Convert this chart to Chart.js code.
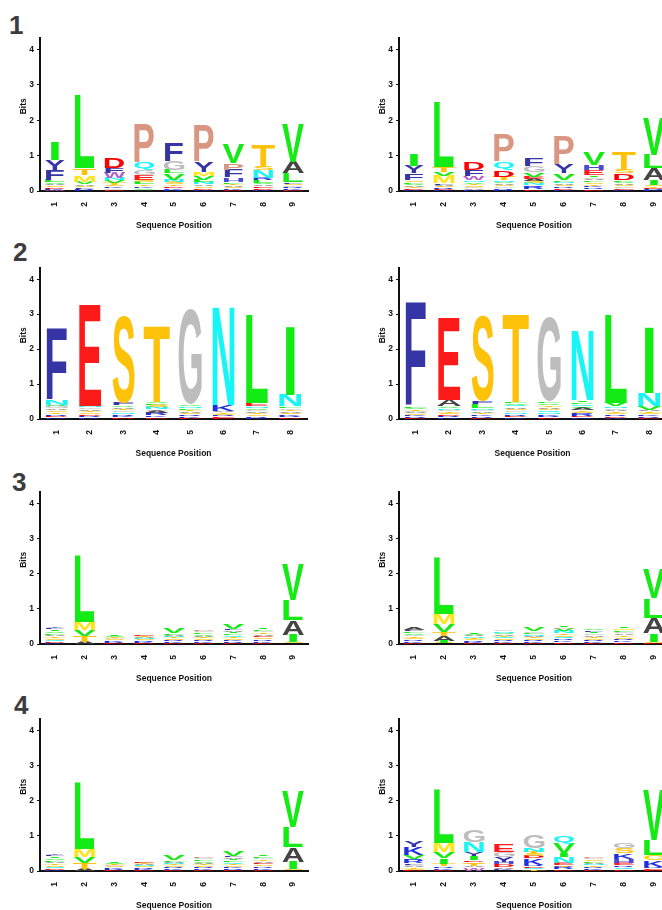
<!DOCTYPE html>
<html lang="en">
<head>
<meta charset="UTF-8">
<script src="https://cdn.jsdelivr.net/npm/chart.js@4.4.0/dist/chart.umd.min.js"></script>
<title>Sequence logos</title>
<style>
    body { margin: 0; width: 662px; height: 910px; overflow: hidden; background: #fff; position: relative; }
    canvas { position: absolute; }
    .num { position: absolute; font: bold 26px/26px "Liberation Sans", Arial, sans-serif; color: #3d3d3d; }
</style>
</head>
<body>
<div class="num" style="left:9px;top:12px">1</div>
<div class="num" style="left:13px;top:239px">2</div>
<div class="num" style="left:12px;top:469px">3</div>
<div class="num" style="left:14px;top:692px">4</div>

<canvas id="c1a"></canvas><canvas id="c1b"></canvas>
<canvas id="c2a"></canvas><canvas id="c2b"></canvas>
<canvas id="c3a"></canvas><canvas id="c3b"></canvas>
<canvas id="c4a"></canvas><canvas id="c4b"></canvas>

<script>
// positions on the x axis
const pos9 = ["1", "2", "3", "4", "5", "6", "7", "8", "9"];
const pos8 = ["1", "2", "3", "4", "5", "6", "7", "8"];

// letters of each column, bottom -> top, and their heights in bits
const p1aSeq = ["WKDSAVLFYI", "KRFSAVMTL", "EGKSTVNWFD", "AVKTLSEGQP", "RKDTSNVLGF", "KDSANLVMYP", "DKSATLHFPV", "KDEAVLRNST", "EKRGSFLAV"];
const p1aBits = [
    [.03, .04, .04, .05, .04, .05, .06, .28, .29, .52],
    [.03, .04, .04, .04, .05, .06, .19, .19, 2.05],
    [.04, .04, .05, .05, .06, .06, .06, .16, .14, .29],
    [.04, .05, .05, .05, .06, .06, .14, .14, .21, 1.10],
    [.04, .05, .05, .05, .06, .06, .19, .09, .24, .52],
    [.04, .05, .05, .05, .06, .06, .12, .12, .28, 1.04],
    [.04, .04, .04, .05, .04, .05, .12, .21, .19, .55],
    [.04, .05, .05, .05, .05, .06, .06, .22, .11, .61],
    [.04, .04, .04, .05, .04, .05, .26, .31, 1.09]
];

const p1bSeq = ["KDTAVLSFYI", "KDRSAFMVTL", "KAGSTVNWFD", "KRGSAVNTDQP", "DRKNSAEVGF", "KDRSANLVYP", "DRKTSLAGIEHV", "KEGSAVLDST", "KRDTSIALV"];
const p1bBits = [
    [.04, .04, .04, .05, .04, .05, .05, .19, .22, .33],
    [.03, .03, .04, .04, .04, .04, .21, .12, .14, 1.84],
    [.04, .04, .04, .05, .04, .05, .05, .11, .17, .21],
    [.04, .04, .05, .04, .05, .04, .05, .09, .19, .24, .75],
    [.05, .06, .05, .06, .06, .06, .06, .12, .17, .23],
    [.04, .04, .05, .04, .05, .04, .05, .19, .24, .80],
    [.05, .05, .05, .05, .05, .05, .05, .05, .05, .14, .15, .37],
    [.04, .04, .05, .04, .05, .04, .05, .19, .09, .52],
    [.03, .03, .03, .04, .04, .14, .33, .38, 1.06]
];

const p2aSeq = ["KDRTSAGVNF", "KRDSTAGNE", "DKRNGTAVFS", "DKRAGNSLVT", "DKRSATLNVG", "DERSTAKN", "KRSTAGVNEL", "DRKSATGLNI"];
const p2aBits = [
    [.05, .05, .05, .05, .05, .05, .06, .05, .14, 2.06],
    [.05, .05, .04, .05, .05, .04, .05, .05, 2.91],
    [.05, .05, .05, .05, .05, .05, .05, .05, .06, 2.49],
    [.06, .05, .06, .06, .05, .06, .06, .05, .05, 2.19],
    [.04, .04, .05, .04, .05, .04, .05, .05, .05, 2.73],
    [.04, .04, .03, .04, .04, .03, .19, 2.83],
    [.04, .05, .04, .05, .04, .05, .04, .05, .10, 2.54],
    [.05, .04, .05, .04, .05, .04, .05, .04, .33, 1.95]
];

const p2bSeq = ["DRKSAGTVLF", "KRDSTGNVAE", "DRKTAGNLFS", "KDRNGSAQVLT", "DRKNQSATVLG", "KDRSTAVQLIN", "KDRSTAGNVL", "DRKSTAVNI"];
const p2bBits = [
    [.04, .04, .04, .04, .04, .04, .04, .04, .04, 2.99],
    [.05, .04, .05, .04, .05, .04, .05, .04, .17, 2.35],
    [.04, .05, .04, .05, .04, .05, .04, .11, .08, 2.45],
    [.05, .05, .05, .05, .05, .05, .05, .05, .05, .05, 2.52],
    [.05, .05, .05, .05, .05, .05, .05, .05, .05, .05, 2.42],
    [.05, .05, .06, .05, .05, .06, .05, .06, .05, .05, 2.02],
    [.04, .05, .04, .05, .04, .05, .04, .05, .10, 2.53],
    [.04, .04, .05, .04, .05, .04, .10, .38, 1.90]
];

const p3aSeq = ["KDQSTALVIFY", "ATVML", "DRKSGTVI", "DKRSNATE", "DKRSTNALV", "DKRSTAVLGP", "DRKSTQLIAFV", "DKRSEATGLI", "DSIALV"];
const p3aBits = [
    [.04, .04, .04, .05, .05, .05, .05, .05, .05, .04, .04],
    [.07, .17, .16, .22, 1.89],
    [.03, .04, .03, .04, .03, .04, .03, .04],
    [.03, .04, .03, .04, .03, .04, .03, .03],
    [.04, .04, .04, .04, .04, .03, .04, .03, .13],
    [.04, .04, .04, .04, .04, .04, .04, .05, .04, .04],
    [.04, .04, .04, .04, .04, .05, .05, .05, .04, .04, .13],
    [.04, .05, .05, .05, .05, .05, .05, .04, .05, .05],
    [.02, .03, .22, .41, .57, 1.02]
];

const p3bSeq = ["DKRSTGVLFA", "SIATVML", "DKRSTNAVI", "DKRSQTAVNG", "DKRSTANLGV", "DKRQSTNVPI", "DKRSTAGIFV", "DKRSTAGLMI", "DSIALV"];
const p3bBits = [
    [.04, .05, .04, .05, .04, .05, .04, .05, .04, .07],
    [.03, .06, .15, .11, .21, .29, 1.60],
    [.03, .04, .04, .03, .04, .04, .04, .03, .04],
    [.04, .04, .04, .04, .04, .04, .04, .04, .04, .04],
    [.04, .04, .04, .04, .04, .04, .04, .04, .04, .09],
    [.05, .05, .05, .05, .05, .05, .06, .06, .05, .05],
    [.04, .04, .04, .04, .04, .05, .05, .05, .04, .04],
    [.05, .05, .05, .05, .05, .05, .05, .05, .05, .05],
    [.03, .04, .23, .45, .55, .83]
];

// panel 4 left reads the same as panel 3 left
const p4aSeq = p3aSeq;
const p4aBits = p3aBits;

const p4bSeq = ["DSTAGFRVKY", "DKRTIVML", "WATSDIYNG", "QKADHYGE", "TQDRKDSTNG", "DRTENIVQ", "DKRTNALSGP", "DQREHKSG", "DERKCLV"];
const p4bBits = [
    [.03, .04, .03, .04, .04, .04, .12, .11, .22, .19],
    [.04, .05, .05, .07, .15, .19, .24, 1.53],
    [.10, .05, .06, .05, .05, .12, .12, .28, .34],
    [.03, .04, .04, .08, .06, .15, .15, .22],
    [.04, .05, .04, .04, .19, .07, .06, .06, .09, .36],
    [.05, .06, .05, .06, .19, .09, .27, .23],
    [.04, .04, .04, .04, .04, .04, .05, .04, .05, .04],
    [.05, .06, .05, .06, .12, .16, .14, .13],
    [.04, .04, .04, .19, .14, .43, 1.42]
];

const letterColors = {
    A: '#444444', C: '#ffcc00', D: '#ff0000', E: '#ff1a1a', F: '#3535a5',
    G: '#bdbdbd', H: '#4b4bd2', I: '#14ea14', K: '#1f2fe0', L: '#14ea14',
    M: '#ffe41a', N: '#17f5f5', P: '#d99680', Q: '#17f5f5', R: '#1f2fe0',
    S: '#ffc20a', T: '#ffc20a', V: '#14ea14', W: '#b462c8', Y: '#3535a5'
};
// relative glyph widths
const letterWidth = { I: 0.42, T: 1.2, V: 1.12, A: 1.1, G: 1.05, F: 0.92, W: 1.1, M: 1.05 };

var glyphCache = {};
function glyphBox(ctx, ch) {
    if (!glyphCache[ch]) {
        ctx.font = 'bold 100px "Liberation Sans"';
        const m = ctx.measureText(ch);
        glyphCache[ch] = {
            l: m.actualBoundingBoxLeft, r: m.actualBoundingBoxRight,
            a: m.actualBoundingBoxAscent, d: m.actualBoundingBoxDescent
        };
    }
    return glyphCache[ch];
}

// draws each stacked bar as a letter stretched into the bar's box
const logoPlugin = {
    id: 'logo',
    afterDatasetsDraw(chart) {
        const ctx = chart.ctx;
        chart.data.datasets.forEach((ds, di) => {
            const meta = chart.getDatasetMeta(di);
            meta.data.forEach((bar, i) => {
                const ch = ds.letters[i];
                if (!ch || ds.data[i] == null) return;
                const p = bar.getProps(['x', 'y', 'base', 'width'], true);
                const h = p.base - p.y;
                if (!(h > 0.2)) return;
                const w = p.width * (letterWidth[ch] || 1);
                const g = glyphBox(ctx, ch);
                ctx.save();
                ctx.font = 'bold 100px "Liberation Sans"';
                ctx.textAlign = 'left';
                ctx.textBaseline = 'alphabetic';
                ctx.fillStyle = letterColors[ch] || '#888';
                ctx.translate(p.x - w / 2, p.y);
                ctx.scale(w / (g.l + g.r), h / (g.a + g.d));
                ctx.fillText(ch, g.l, g.a);
                ctx.restore();
            });
        });
    }
};

const tickFont = { family: '"Liberation Sans", Arial, sans-serif', size: 8.5, weight: 'bold' };

function makeLogo(id, left, areaTop, areaH, areaW, labels, seqs, bits) {
    const cv = document.getElementById(id);
    const w = 330, h = 30 + areaH + 40;
    cv.width = w; cv.height = h;
    cv.style.left = left + 'px';
    cv.style.top = (areaTop - 30) + 'px';

    const nLayers = Math.max(...seqs.map(s => s.length));
    const datasets = [];
    for (let k = 0; k < nLayers; k++) {
        datasets.push({
            data: bits.map(b => b[k] === undefined ? null : b[k]),
            letters: seqs.map(s => s[k] || ''),
            backgroundColor: 'rgba(0,0,0,0)',
            borderWidth: 0,
            categoryPercentage: 1,
            barPercentage: 0.66
        });
    }

    return new Chart(cv, {
        type: 'bar',
        data: { labels: labels, datasets: datasets },
        plugins: [logoPlugin],
        options: {
            responsive: false,
            animation: false,
            events: [],
            layout: { padding: { left: 0, top: 30, right: w - 40 - areaW, bottom: 0 } },
            plugins: { legend: { display: false }, tooltip: { enabled: false } },
            scales: {
                x: {
                    stacked: true,
                    offset: true,
                    grid: { display: false, drawTicks: false },
                    border: { display: true, color: '#111', width: 2 },
                    ticks: { color: '#111', font: tickFont, minRotation: 90, maxRotation: 90, padding: 11, autoSkip: false },
                    title: { display: true, text: 'Sequence Position', color: '#111', font: tickFont, padding: 0 },
                    afterFit: s => { s.height = 40; }
                },
                y: {
                    stacked: true,
                    min: 0,
                    max: 4.32,
                    grid: { drawOnChartArea: false, drawTicks: true, tickLength: 3, color: '#111' },
                    border: { display: true, color: '#111', width: 2 },
                    ticks: { stepSize: 1, includeBounds: false, color: '#111', font: tickFont, padding: 3 },
                    title: { display: true, text: '       Bits', color: '#111', font: tickFont, padding: { top: 19, bottom: 0 } },
                    afterFit: s => { s.width = 40; }
                }
            }
        }
    });
}

makeLogo('c1a', 0, 38, 153, 268, pos9, p1aSeq, p1aBits);
makeLogo('c1b', 359, 38, 153, 270, pos9, p1bSeq, p1bBits);
makeLogo('c2a', 0, 268, 151, 267, pos8, p2aSeq, p2aBits);
makeLogo('c2b', 359, 268, 151, 267, pos8, p2bSeq, p2bBits);
makeLogo('c3a', 0, 492, 152, 268, pos9, p3aSeq, p3aBits);
makeLogo('c3b', 359, 492, 152, 270, pos9, p3bSeq, p3bBits);
makeLogo('c4a', 0, 719, 152, 268, pos9, p4aSeq, p4aBits);
makeLogo('c4b', 359, 719, 152, 270, pos9, p4bSeq, p4bBits);
</script>
</body>
</html>
